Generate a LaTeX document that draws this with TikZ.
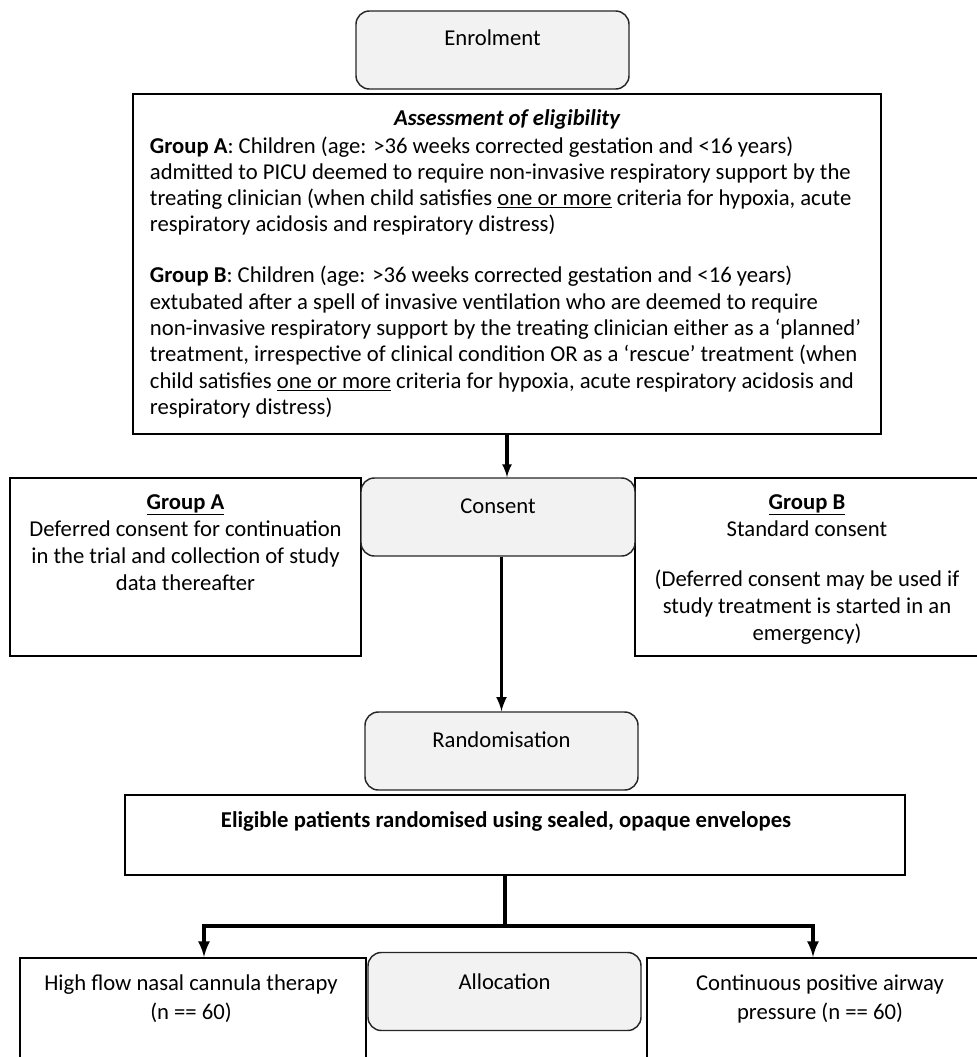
\documentclass[tikz,border=0pt]{standalone}
\usepackage{fontspec}
\setmainfont{Carlito}
\usetikzlibrary{arrows,positioning}

\begin{document}
\begin{tikzpicture}[x=0.75pt,y=-0.75pt]
\tikzstyle{stage} = [draw=black!85,fill=black!5,rounded corners=10pt,line width=1.1pt,minimum width=204.75pt,minimum height=58.5pt]
\tikzstyle{panel} = [draw=black,fill=white,line width=1.5pt]
\tikzstyle{txt} = [inner sep=0pt,anchor=north,font=\fontsize{17}{19.7}\selectfont,align=center,execute at begin node=\strut]
\tikzstyle{txts} = [txt,font=\fontsize{17}{20.25}\selectfont]
\tikzstyle{flow} = [line width=2.6pt,line join=miter,-latex]

\useasboundingbox (0,0) rectangle (977,1057);
\clip (0,0) rectangle (977,1057);

% enrolment and eligibility
\node[stage] (enrol) at (492.5,50) {};
\node[txt] (enrolT) at ([yshift=-12.3pt]enrol.north) {Enrolment};

\node[panel,line width=2pt,minimum width=561pt,minimum height=255pt] (elig) at (507,264) {};
\node[txt,font=\fontsize{17}{19.7}\selectfont\bfseries\itshape] (eligT) at ([yshift=-11pt]elig.north) {Assessment of eligibility};
\node[txt,anchor=north west,align=left] (eligB) at ([xshift=13.5pt,yshift=-32.7pt]elig.north west) {%
\textbf{Group A}: Children (age: >36 weeks corrected gestation and <16 years)\\
admitted to PICU deemed to require non-invasive respiratory support by the\\
treating clinician (when child satisfies \underline{one or more} criteria for hypoxia, acute\\
respiratory acidosis and respiratory distress)\\[18.6pt]
\textbf{Group B}: Children (age: >36 weeks corrected gestation and <16 years)\\
extubated after a spell of invasive ventilation who are deemed to require\\
non-invasive respiratory support by the treating clinician either as a ‘planned’\\
treatment, irrespective of clinical condition OR as a ‘rescue’ treatment (when\\
child satisfies \underline{one or more} criteria for hypoxia, acute respiratory acidosis and\\
respiratory distress)};

% consent
\node[panel,minimum width=263.25pt,minimum height=133.5pt] (grpA) at (185.5,567) {};
\node[txts] (grpAT) at ([yshift=-12.8pt]grpA.north) {\textbf{\underline{Group A}}\\Deferred consent for continuation\\in the trial and collection of study\\data thereafter};

\node[panel,minimum width=258pt,minimum height=133.5pt] (grpB) at (807,567) {};
\node[txts] (grpBT) at ([yshift=-12.8pt]grpB.north) {\textbf{\underline{Group B}}\\Standard consent\\[17.25pt](Deferred consent may be used if\\study treatment is started in an\\emergency)};

\node[stage,minimum width=205.5pt] (consent) at (498,517) {};
\node[txt] (consentT) at ([yshift=-13pt]consent.north) {Consent};

% randomisation
\node[stage] (rand) at (501.5,751) {};
\node[txt] (randT) at ([yshift=-13pt]rand.north) {Randomisation};

\node[panel,minimum width=585pt,minimum height=60pt] (envel) at (515,835) {};
\node[txt,font=\fontsize{17}{19.7}\selectfont\bfseries] (envelT) at ([xshift=-6.75pt,yshift=-11.5pt]envel.north) {Eligible patients randomised using sealed, opaque envelopes};

% allocation
\node[panel,minimum width=259.5pt,minimum height=99pt] (hfnc) at (193,1024) {};
\node[txts] (hfncT) at ([xshift=-1.5pt,yshift=-12.8pt]hfnc.north) {High flow nasal cannula therapy\\[1.5pt](n == 60)};

\node[stage] (alloc) at (504.5,991.5) {};
\node[txt] (allocT) at ([yshift=-14pt]alloc.north) {Allocation};

\node[panel,minimum width=259.5pt,minimum height=99pt] (cpap) at (820,1024) {};
\node[txts] (cpapT) at ([yshift=-12.8pt]cpap.north) {Continuous positive airway\\[1.5pt]pressure (n == 60)};

% connectors
\draw[flow,line width=2.3pt] (elig.south) -- (elig.south |- consent.north);
\draw[flow] (rand.north |- consent.south) -- (rand.north);

\coordinate (split) at (505,926);
\coordinate (turnL) at (204,926);
\coordinate (turnR) at (813,926);
\draw[line width=3pt] (split |- envel.south) -- (split);
\draw[flow,line width=3pt] (split) -- (turnL) -- (turnL |- hfnc.north);
\draw[flow,line width=3pt] (split) -- (turnR) -- (turnR |- cpap.north);

\end{tikzpicture}
\end{document}
